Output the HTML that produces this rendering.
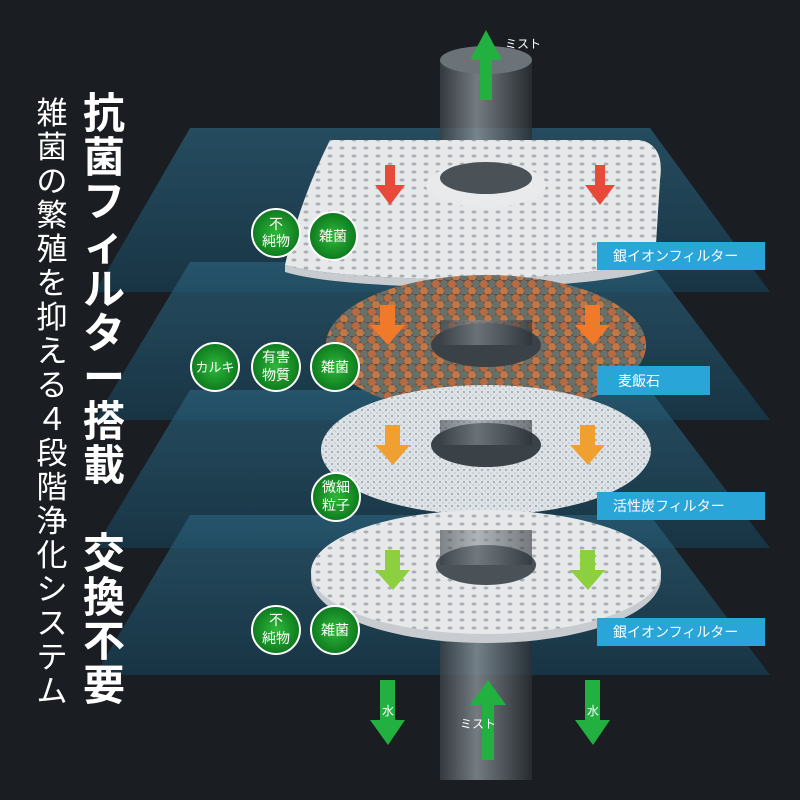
<!DOCTYPE html>
<html><head><meta charset="utf-8"><style>
body{margin:0;background:#1a1d22;}
svg{display:block}
text{font-family:"Liberation Sans","Noto Sans CJK JP",sans-serif}
</style></head><body>
<svg width="800" height="800" viewBox="0 0 800 800">
<defs>
<linearGradient id="pl" x1="0" y1="0" x2="0" y2="1"><stop offset="0" stop-color="#2a5f78" stop-opacity=".7"/><stop offset="1" stop-color="#173a4c" stop-opacity=".8"/></linearGradient>
<linearGradient id="cyl" x1="0" y1="0" x2="1" y2="0"><stop offset="0" stop-color="#3a4046"/><stop offset=".4" stop-color="#8a9298"/><stop offset="1" stop-color="#2a2f34"/></linearGradient>
<radialGradient id="gc"><stop offset="0" stop-color="#2fb83a"/><stop offset="1" stop-color="#0d7a1e"/></radialGradient>
<pattern id="st" width="16" height="14" patternUnits="userSpaceOnUse">
<rect width="16" height="14" fill="#5a5048"/>
<circle cx="4" cy="4" r="4" fill="#b86a40"/><circle cx="12" cy="4" r="4" fill="#6a7068"/>
<circle cx="0" cy="11" r="4" fill="#6a7068"/><circle cx="8" cy="11" r="4" fill="#c07848"/><circle cx="16" cy="11" r="4" fill="#6a7068"/>
</pattern>
<pattern id="cb" width="6" height="6" patternUnits="userSpaceOnUse">
<rect width="6" height="6" fill="#dde2e6"/><circle cx="2" cy="2" r="1" fill="#9aa2a8"/><circle cx="5" cy="5" r=".8" fill="#b8c0c6"/>
</pattern>
<pattern id="hl" width="12" height="8" patternUnits="userSpaceOnUse">
<rect width="12" height="8" fill="#e6e8ea"/><ellipse cx="6" cy="4" rx="2.5" ry="1.5" fill="#a8aeb4"/>
</pattern>
</defs>
<rect width="800" height="800" fill="#1a1d22"/>
<!-- planes -->
<polygon points="190,128 650,128 770,292 95,292" fill="url(#pl)"/>
<polygon points="190,262 650,262 770,420 95,420" fill="url(#pl)"/>
<polygon points="190,390 650,390 770,548 95,548" fill="url(#pl)"/>
<polygon points="190,515 650,515 770,675 95,675" fill="url(#pl)"/>
<!-- column -->
<rect x="440" y="60" width="92" height="720" fill="url(#cyl)" opacity=".8"/>
<ellipse cx="486" cy="60" rx="46" ry="14" fill="#6b7378"/>
<!-- plate 1 -->
<path d="M330,140 L640,140 Q665,145 660,180 L655,260 Q600,275 480,280 Q330,278 285,265 Q300,200 330,140Z" fill="url(#hl)"/>
<path d="M285,265 Q330,278 480,280 Q600,275 655,260 L655,270 Q600,285 480,288 Q330,286 285,272Z" fill="#c8ccd0"/>
<ellipse cx="486" cy="185" rx="60" ry="22" fill="#e8eaec"/>
<ellipse cx="486" cy="178" rx="46" ry="16" fill="#4a5258"/>
<!-- stones -->
<ellipse cx="486" cy="345" rx="160" ry="70" fill="url(#st)"/>
<ellipse cx="486" cy="345" rx="55" ry="22" fill="#3a4248"/>
<rect x="440" y="320" width="92" height="25" fill="url(#cyl)" opacity=".6"/>
<!-- carbon -->
<ellipse cx="486" cy="450" rx="165" ry="65" fill="url(#cb)"/>
<ellipse cx="486" cy="445" rx="55" ry="22" fill="#3a4248"/>
<rect x="440" y="420" width="92" height="25" fill="url(#cyl)" opacity=".6"/>
<!-- plate 2 -->
<ellipse cx="486" cy="578" rx="175" ry="65" fill="#c8ccd0"/>
<ellipse cx="486" cy="572" rx="175" ry="62" fill="url(#hl)"/>
<ellipse cx="486" cy="565" rx="50" ry="20" fill="#4a5258"/>
<rect x="440" y="530" width="92" height="35" fill="url(#cyl)" opacity=".6"/>
<!-- arrows -->
<g fill="#e84a3a"><polygon points="385,165 395,165 395,185 405,185 390,205 375,185 385,185"/><polygon points="595,165 605,165 605,185 615,185 600,205 585,185 595,185"/></g>
<g fill="#f07a2a"><polygon points="380,305 395,305 395,325 405,325 388,345 370,325 380,325"/><polygon points="585,305 600,305 600,325 610,325 593,345 575,325 585,325"/></g>
<g fill="#f0a030"><polygon points="385,425 400,425 400,445 410,445 393,465 375,445 385,445"/><polygon points="580,425 595,425 595,445 605,445 588,465 570,445 580,445"/></g>
<g fill="#8cd040"><polygon points="385,550 400,550 400,570 410,570 393,590 375,570 385,570"/><polygon points="580,550 595,550 595,570 605,570 588,590 570,570 580,570"/></g>
<g fill="#22b040"><polygon points="480,60 492,60 492,100 480,100"/><polygon points="486,30 470,60 502,60"/>
<polygon points="380,680 395,680 395,720 405,720 388,745 370,720 380,720"/><polygon points="585,680 600,680 600,720 610,720 593,745 575,720 585,720"/>
<polygon points="482,700 494,700 494,760 482,760"/><polygon points="488,680 470,705 506,705"/></g>
<text x="505" y="48" fill="#fff" font-size="12">ミスト</text>
<text x="460" y="728" fill="#fff" font-size="12">ミスト</text>
<text x="382" y="715" fill="#fff" font-size="12">水</text>
<text x="587" y="715" fill="#fff" font-size="12">水</text>
<!-- labels -->
<g font-size="14" fill="#fff">
<rect x="597" y="242" width="168" height="28" fill="#2aa5d8"/><text x="613" y="261">銀イオンフィルター</text>
<rect x="597" y="366" width="113" height="29" fill="#2aa5d8"/><text x="618" y="386">麦飯石</text>
<rect x="597" y="492" width="168" height="28" fill="#2aa5d8"/><text x="613" y="511">活性炭フィルター</text>
<rect x="597" y="618" width="168" height="28" fill="#2aa5d8"/><text x="613" y="637">銀イオンフィルター</text>
</g>
<!-- green circles -->
<g fill="url(#gc)" stroke="#fff" stroke-width="2">
<circle cx="276" cy="233" r="24"/><circle cx="333" cy="236" r="24"/>
<circle cx="215" cy="367" r="24"/><circle cx="276" cy="367" r="24"/><circle cx="335" cy="367" r="24"/>
<circle cx="336" cy="497" r="24"/>
<circle cx="276" cy="630" r="24"/><circle cx="335" cy="630" r="24"/>
</g>
<g fill="#fff" font-size="14" text-anchor="middle">
<text x="276" y="229">不</text><text x="276" y="246">純物</text><text x="333" y="241">雑菌</text>
<text x="215" y="372" font-size="13">カルキ</text><text x="276" y="362">有害</text><text x="276" y="380">物質</text><text x="335" y="372">雑菌</text>
<text x="336" y="492">微細</text><text x="336" y="510">粒子</text>
<text x="276" y="625">不</text><text x="276" y="643">純物</text><text x="335" y="635">雑菌</text>
</g>
<!-- vertical title -->
<g fill="#fff" text-anchor="middle">
<g font-size="42" font-weight="bold">
<text x="104" y="128">抗</text><text x="104" y="172">菌</text><text x="104" y="216">フ</text><text x="104" y="260">ィ</text><text x="104" y="304">ル</text><text x="104" y="348">タ</text><text x="104" y="392">ー</text><text x="104" y="436">搭</text><text x="104" y="480">載</text><text x="104" y="568">交</text><text x="104" y="612">換</text><text x="104" y="656">不</text><text x="104" y="700">要</text>
</g>
<g font-size="31">
<text x="52" y="124">雑</text><text x="52" y="158">菌</text><text x="52" y="192">の</text><text x="52" y="226">繁</text><text x="52" y="260">殖</text><text x="52" y="294">を</text><text x="52" y="328">抑</text><text x="52" y="362">え</text><text x="52" y="396">る</text><text x="52" y="430">４</text><text x="52" y="464">段</text><text x="52" y="498">階</text><text x="52" y="532">浄</text><text x="52" y="566">化</text><text x="52" y="600">シ</text><text x="52" y="634">ス</text><text x="52" y="668">テ</text><text x="52" y="702">ム</text>
</g>
</g>
</svg>
</body></html>
